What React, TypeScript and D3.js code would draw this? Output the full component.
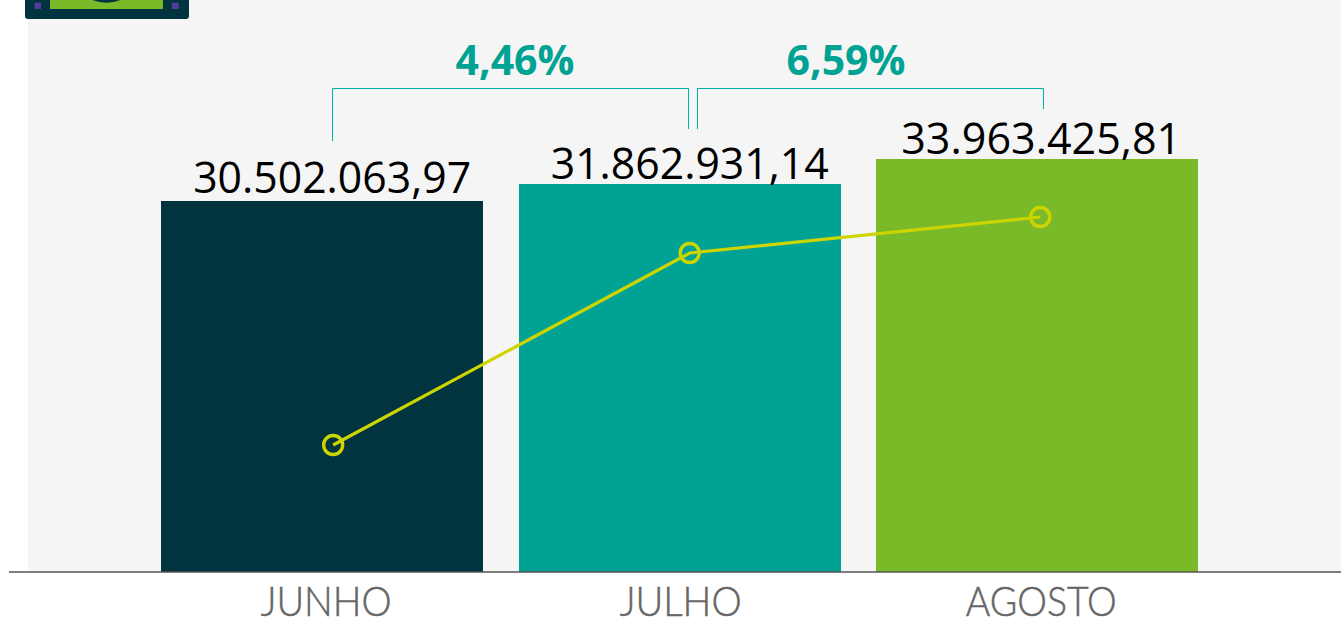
// Comparativo mensal: bars, line and bracket percentages
import React from "react";
import * as d3 from "d3";

const months = ["JUNHO", "JULHO", "AGOSTO"];
const barValues = [30502063.97, 31862931.14, 33963425.81];
const barLabels = ["30.502.063,97", "31.862.931,14", "33.963.425,81"];
// line has no printed values, these are read off the picture as an index
const lineValues = [127, 319, 355];
const growthLabels = ["4,46%", "6,59%"];
const barColors = ["#023440", "#00a393", "#7aba29"];

const width = 1341;
const height = 619;
const baseY = 572;
const font = "'Open Sans', 'Noto Sans', sans-serif";
const teal = "#00a393";
const lime = "#cdd500";

export default function App() {
  const x = d3.scaleBand().domain(months).range([143.4, 1216]).paddingInner(0.1).paddingOuter(0.05);
  const y = d3.scaleLinear().domain([0, barValues[2]]).range([baseY, 159]);
  const yLine = d3.scaleLinear().domain([0, 355]).range([baseY, 217]);

  const lineOffsets = [11, 10, 3];
  const lineX = (i: number) => x(months[i])! + x.bandwidth() / 2 + lineOffsets[i];
  const linePath = d3.line<number>()
    .x((_, i) => lineX(i))
    .y((d) => yLine(d))(lineValues)!;

  const labelOffsets = [10, 10, 4];
  const labelLengths = [278, 278, 280];
  const labelDy = [-8, -6, -5];
  const catOffsets = [4, 1, 4];
  const catLengths = [131, 122, 151];

  const brackets = [
    { d: "M332.5,141V88.5H688.5V129", tx: 515 },
    { d: "M697.5,129V88.5H1043.5V109", tx: 846 },
  ];

  return (
    <svg width={width} height={height} style={{ position: "absolute", left: 0, top: 0, fontFamily: font }}>
      <rect x={28} y={0} width={width - 28} height={baseY} fill="#f5f5f5" />

      {/* banknote icon, cut off by the top edge */}
      <g>
        <rect x={25} y={-20} width={164} height={39} rx={3} fill="#023440" />
        <rect x={50} y={-20} width={113} height={29} fill="#7aba29" />
        <circle cx={106.5} cy={-35} r={37.7} fill="#023440" />
        <rect x={34.5} y={2.7} width={6.6} height={6.3} fill="#533c97" />
        <rect x={171.8} y={2.7} width={7} height={6.3} fill="#533c97" />
      </g>

      {months.map((m, i) => {
        const top = Math.floor(y(barValues[i]));
        return (
          <rect key={m} x={Math.round(x(m)!)} y={top} width={Math.round(x.bandwidth())} height={baseY - top} fill={barColors[i]} />
        );
      })}

      <line x1={9} x2={width} y1={572} y2={572} stroke="#555" strokeWidth={1.4} />

      {months.map((m, i) => (
        <text key={m} x={x(m)! + x.bandwidth() / 2 + labelOffsets[i]} y={y(barValues[i]) + labelDy[i]}
          textAnchor="middle" fontSize={44} fill="#000" textLength={labelLengths[i]} lengthAdjust="spacingAndGlyphs">
          {barLabels[i]}
        </text>
      ))}

      {months.map((m, i) => (
        <text key={m} x={x(m)! + x.bandwidth() / 2 + catOffsets[i]} y={616}
          textAnchor="middle" fontSize={41} fontWeight={300} fill="#666" stroke="#666" strokeWidth={0.5}
          textLength={catLengths[i]} lengthAdjust="spacingAndGlyphs" style={{ fontFamily: "Lato, sans-serif" }}>
          {m}
        </text>
      ))}

      <path d={linePath} fill="none" stroke={lime} strokeWidth={3.2} />
      {lineValues.map((v, i) => (
        <circle key={i} cx={lineX(i)} cy={yLine(v)} r={9.5} fill="none" stroke={lime} strokeWidth={3.4} />
      ))}

      {brackets.map((b, i) => (
        <g key={i}>
          <path d={b.d} fill="none" stroke="#00b3a1" strokeWidth={1} />
          <text x={b.tx} y={75} textAnchor="middle" fontSize={41} fontWeight={700} fill={teal}>
            {growthLabels[i]}
          </text>
        </g>
      ))}
    </svg>
  );
}
